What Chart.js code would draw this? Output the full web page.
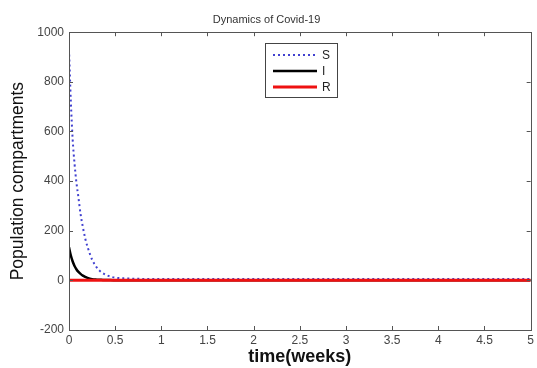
<!DOCTYPE html>
<html>
<head>
<meta charset="utf-8">
<script src="https://cdn.jsdelivr.net/npm/chart.js@4.4.0/dist/chart.umd.min.js"></script>
<style>
  body { margin: 0; background: #fff; }
  #wrap { width: 537px; height: 368px; position: relative; }
</style>
</head>
<body>
<div id="wrap"><canvas id="covid-chart"></canvas></div>
<script>
// Data
const timeWeeks = [0, 0.02, 0.04, 0.06, 0.08, 0.1, 0.125, 0.15, 0.175, 0.2, 0.25, 0.3, 0.35, 0.4, 0.45, 0.5, 0.6, 0.8, 1, 1.5, 2, 2.5, 3, 3.5, 4, 4.5, 5];
const sValues = [930, 720, 566, 470, 395, 340, 268, 215, 170, 136, 84, 52, 33, 22, 15, 11, 8, 6, 6, 6, 6, 6, 6, 6, 6, 6, 6];
const iValues = [133, 100, 76, 58, 45, 35, 26, 19, 14, 10, 5, 3, 2, 1, 1, 0.5, 0, 0, 0, 0, 0, 0, 0, 0, 0, 0, 0];
const rValues = [0, 0, 0, 0, 0, 0, 0, 0, 0, 0, 0, 0, 0, 0, 0, 0, 0, 0, 0, 0, 0, 0, 0, 0, 0, 0, 0];
const seriesLabels = ['S', 'I', 'R'];
const xTicks = [0, 0.5, 1, 1.5, 2, 2.5, 3, 3.5, 4, 4.5, 5];
const yTicks = [-200, 0, 200, 400, 600, 800, 1000];

const toPoints = vals => vals.map((v, i) => ({ x: timeWeeks[i], y: v }));

// Box around the plot with inward ticks (matlab style)
const boxPlugin = {
  id: 'box',
  afterDatasetsDraw(chart) {
    const { ctx, chartArea: a, scales } = chart;
    ctx.save();
    ctx.strokeStyle = '#555';
    ctx.lineWidth = 1;
    ctx.strokeRect(Math.round(a.left) + 0.5, Math.round(a.top) + 0.5,
      Math.round(a.right - a.left), Math.round(a.bottom - a.top));
    ctx.beginPath();
    xTicks.forEach(t => {
      const x = Math.round(scales.x.getPixelForValue(t)) + 0.5;
      ctx.moveTo(x, a.bottom); ctx.lineTo(x, a.bottom - 4);
      ctx.moveTo(x, a.top); ctx.lineTo(x, a.top + 4);
    });
    yTicks.forEach(t => {
      const y = Math.round(scales.y.getPixelForValue(t)) + 0.5;
      ctx.moveTo(a.left, y); ctx.lineTo(a.left + 4, y);
      ctx.moveTo(a.right, y); ctx.lineTo(a.right - 4, y);
    });
    ctx.stroke();
    ctx.restore();
  }
};

// Legend box inside the plot
const legendPlugin = {
  id: 'boxLegend',
  afterDraw(chart) {
    const { ctx } = chart;
    const x0 = 265, y0 = 43, w = 72, h = 54;
    ctx.save();
    ctx.fillStyle = '#fff';
    ctx.fillRect(x0, y0, w, h);
    ctx.strokeStyle = '#444';
    ctx.lineWidth = 1;
    ctx.strokeRect(x0 + 0.5, y0 + 0.5, w, h);
    chart.data.datasets.forEach((ds, i) => {
      const y = 55 + i * 16;
      ctx.beginPath();
      ctx.strokeStyle = ds.borderColor;
      ctx.lineWidth = ds.borderWidth;
      ctx.setLineDash(ds.borderDash || []);
      ctx.moveTo(273, y);
      ctx.lineTo(317, y);
      ctx.stroke();
      ctx.setLineDash([]);
      ctx.fillStyle = '#222';
      ctx.font = '12px Arial, "Liberation Sans"';
      ctx.textBaseline = 'middle';
      ctx.fillText(ds.label, 322, y + 0.5);
    });
    ctx.restore();
  }
};

new Chart(document.getElementById('covid-chart'), {
  type: 'line',
  data: {
    datasets: [
      {
        label: seriesLabels[0],
        data: toPoints(sValues),
        borderColor: '#4040d0',
        borderWidth: 2,
        borderDash: [2, 3],
        order: 2
      },
      {
        label: seriesLabels[1],
        data: toPoints(iValues),
        borderColor: '#000',
        borderWidth: 2.5,
        order: 1
      },
      {
        label: seriesLabels[2],
        data: toPoints(rValues),
        borderColor: '#ee1111',
        borderWidth: 3,
        order: 0
      }
    ]
  },
  options: {
    responsive: true,
    maintainAspectRatio: false,
    animation: false,
    elements: {
      point: { radius: 0 },
      line: { cubicInterpolationMode: 'monotone', fill: false }
    },
    layout: { padding: { left: 0, right: 4, top: 0, bottom: 0 } },
    plugins: {
      legend: { display: false },
      tooltip: { enabled: false },
      title: {
        display: true,
        text: 'Dynamics of Covid-19',
        color: '#333',
        font: { family: 'Arial, "Liberation Sans"', size: 11, weight: 'normal' },
        padding: { top: 13, bottom: 6 }
      }
    },
    scales: {
      x: {
        type: 'linear',
        min: 0,
        max: 5,
        afterFit: s => { s.height = 38; },
        afterBuildTicks: s => { s.ticks = xTicks.map(v => ({ value: v })); },
        ticks: {
          callback: v => String(v),
          color: '#444',
          padding: 3,
          maxRotation: 0,
          font: { family: 'Arial, "Liberation Sans"', size: 12 }
        },
        grid: { display: false, drawTicks: false },
        border: { display: false },
        title: {
          display: true,
          text: 'time(weeks)',
          color: '#111',
          font: { family: 'Arial, "Liberation Sans"', size: 18, weight: 'bold' },
          padding: { top: 0, bottom: 0 }
        }
      },
      y: {
        min: -200,
        max: 1000,
        afterFit: s => { s.width = 69; },
        afterBuildTicks: s => { s.ticks = yTicks.map(v => ({ value: v })); },
        ticks: {
          callback: v => String(v),
          color: '#444',
          padding: 5,
          font: { family: 'Arial, "Liberation Sans"', size: 12 }
        },
        grid: { display: false, drawTicks: false },
        border: { display: false },
        title: {
          display: true,
          text: 'Population compartments',
          color: '#111',
          font: { family: 'Arial, "Liberation Sans"', size: 17.5, weight: 'normal' },
          padding: { top: 7.5, bottom: 0 }
        }
      }
    }
  },
  plugins: [boxPlugin, legendPlugin]
});
</script>
</body>
</html>
